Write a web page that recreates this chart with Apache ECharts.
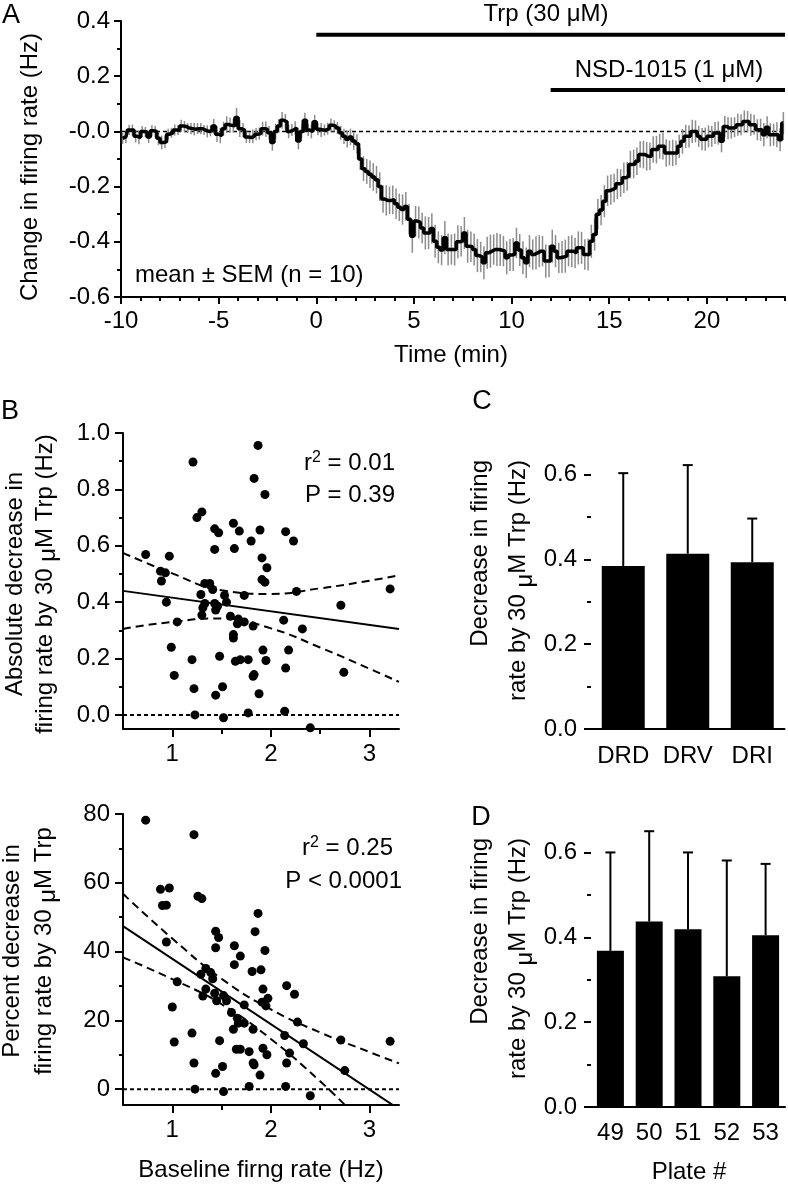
<!DOCTYPE html>
<html>
<head>
<meta charset="utf-8">
<script src="https://cdn.jsdelivr.net/npm/echarts/dist/echarts.min.js"></script>
<style>
html,body{margin:0;padding:0;background:#fff;}
#main{width:788px;height:1184px;}
</style>
</head>
<body>
<div id="main"></div>
<script>
var FONT = 'Liberation Sans, Arial, sans-serif';
var FS = 24;

// panel A : 10 s bins from -10 to 24 min, one row per minute
var aMean = [
  -0.025, -0.02, 0.005, 0.005, -0.018, -0.022,
  0.0, -0.002, -0.02, 0.002, 0.0, -0.025,
  -0.04, -0.038, -0.01, -0.005, 0.005, 0.005,
  0.02, 0.018, 0.012, 0.01, 0.008, 0.01,
  0.01, 0.005, 0.0, 0.002, 0.02, -0.01,
  -0.015, 0.01, 0.025, 0.022, 0.02, 0.05,
  0.01, 0.005, -0.02, -0.022, -0.018, -0.01,
  -0.008, 0.01, 0.008, -0.005, -0.04, 0.0,
  0.02, 0.04, 0.035, 0.0, 0.005, 0.012,
  -0.035, 0.0, 0.04, 0.005, 0.0, 0.035,
  0.008, 0.005, 0.005, 0.01, 0.022, 0.02,
  0.012, -0.005, -0.018, -0.028, -0.02, -0.035,
  -0.045, -0.1, -0.135, -0.145, -0.155, -0.165,
  -0.175, -0.2, -0.245, -0.25, -0.25, -0.248,
  -0.262, -0.275, -0.283, -0.272, -0.318, -0.38,
  -0.325, -0.33, -0.35, -0.368, -0.368, -0.352,
  -0.398, -0.42, -0.43, -0.385, -0.428, -0.428,
  -0.428, -0.4, -0.398, -0.368, -0.416, -0.418,
  -0.428, -0.45, -0.455, -0.476, -0.44, -0.434,
  -0.428, -0.428, -0.43, -0.434, -0.458, -0.448,
  -0.446, -0.404, -0.43, -0.458, -0.476, -0.434,
  -0.446, -0.44, -0.434, -0.434, -0.47, -0.47,
  -0.416, -0.434, -0.458, -0.455, -0.452, -0.434,
  -0.434, -0.44, -0.422, -0.422, -0.446, -0.446,
  -0.398, -0.374, -0.30, -0.285, -0.253, -0.215,
  -0.211, -0.205, -0.19, -0.187, -0.168, -0.163,
  -0.12, -0.118, -0.108, -0.084, -0.084, -0.09,
  -0.09, -0.066, -0.066, -0.054, -0.054, -0.078,
  -0.078, -0.078, -0.078, -0.054, -0.036, -0.018,
  -0.018, 0.0, 0.0, -0.018, -0.028, -0.028,
  -0.018, -0.018, -0.006, -0.006, -0.036, 0.018,
  0.012, 0.012, 0.015, 0.024, 0.024, 0.036,
  0.036, 0.024, 0.024, 0.006, 0.006, -0.012,
  0.015, -0.012, -0.012, -0.012, -0.03, 0.03
];
var aSem = [
  0.02, 0.022, 0.018, 0.02, 0.022, 0.025,
  0.02, 0.018, 0.022, 0.02, 0.02, 0.025,
  0.025, 0.022, 0.02, 0.018, 0.02, 0.018,
  0.022, 0.02, 0.018, 0.02, 0.022, 0.02,
  0.02, 0.018, 0.022, 0.02, 0.025, 0.028,
  0.028, 0.025, 0.03, 0.028, 0.025, 0.035,
  0.03, 0.025, 0.022, 0.02, 0.025, 0.022,
  0.022, 0.025, 0.028, 0.025, 0.03, 0.028,
  0.025, 0.03, 0.028, 0.025, 0.022, 0.025,
  0.03, 0.025, 0.028, 0.022, 0.025, 0.025,
  0.022, 0.025, 0.02, 0.022, 0.025, 0.02,
  0.022, 0.025, 0.028, 0.03, 0.03, 0.032,
  0.035, 0.04, 0.045, 0.045, 0.05, 0.05,
  0.05, 0.052, 0.05, 0.055, 0.05, 0.052,
  0.055, 0.05, 0.055, 0.052, 0.055, 0.06,
  0.055, 0.058, 0.055, 0.06, 0.058, 0.055,
  0.06, 0.058, 0.055, 0.06, 0.058, 0.055,
  0.058, 0.06, 0.055, 0.058, 0.06, 0.055,
  0.058, 0.06, 0.055, 0.06, 0.058, 0.06,
  0.055, 0.06, 0.058, 0.055, 0.06, 0.058,
  0.06, 0.055, 0.058, 0.06, 0.055, 0.058,
  0.055, 0.06, 0.058, 0.055, 0.06, 0.058,
  0.06, 0.058, 0.055, 0.058, 0.06, 0.055,
  0.058, 0.055, 0.06, 0.058, 0.055, 0.058,
  0.06, 0.058, 0.055, 0.055, 0.058, 0.055,
  0.055, 0.052, 0.055, 0.05, 0.055, 0.052,
  0.05, 0.052, 0.05, 0.048, 0.05, 0.052,
  0.05, 0.048, 0.05, 0.045, 0.048, 0.05,
  0.045, 0.048, 0.045, 0.042, 0.045, 0.042,
  0.04, 0.042, 0.04, 0.038, 0.04, 0.042,
  0.04, 0.038, 0.04, 0.042, 0.04, 0.038,
  0.04, 0.038, 0.036, 0.04, 0.038, 0.04,
  0.038, 0.04, 0.036, 0.038, 0.04, 0.042,
  0.04, 0.042, 0.04, 0.045, 0.042, 0.04
];
var aStart = -10;
var aBinsPerMin = 6;
var aXTicks = [-10, -5, 0, 5, 10, 15, 20];
var aXMinor = [-9, -8, -7, -6, -4, -3, -2, -1, 1, 2, 3, 4, 6, 7, 8, 9, 11, 12, 13, 14, 16, 17, 18, 19, 21, 22, 23, 24];
var aYTicks = [-0.6, -0.4, -0.2, 0, 0.2, 0.4];
var aYMinor = [-0.5, -0.3, -0.1, 0.1, 0.3];
var trpBar = [[0, 0.35], [24, 0.35]];
var nsdBar = [[12, 0.15], [24, 0.15]];

// panel B : baseline rate (Hz) vs decrease
var bAbsPoints = [
  [0.73, 0.569], [0.97, 0.563], [0.88, 0.51], [0.93, 0.504], [0.89, 0.475], [0.94, 0.40],
  [1.05, 0.33], [0.99, 0.24], [1.02, 0.14], [1.21, 0.897], [1.25, 0.70], [1.30, 0.72],
  [1.20, 0.196], [1.22, 0.093], [1.23, 0.0], [1.29, 0.427], [1.33, 0.466], [1.38, 0.466],
  [1.41, 0.445], [1.31, 0.38], [1.33, 0.395], [1.30, 0.354], [1.43, 0.66], [1.47, 0.646],
  [1.43, 0.587], [1.43, 0.395], [1.46, 0.386], [1.44, 0.372], [1.48, 0.208], [1.44, 0.07],
  [1.51, 0.10], [1.52, -0.01], [1.53, 0.424], [1.55, 0.40], [1.62, 0.68], [1.68, 0.652],
  [1.63, 0.59], [1.59, 0.35], [1.62, 0.285], [1.62, 0.273], [1.67, 0.34], [1.66, 0.323],
  [1.73, 0.33], [1.73, 0.424], [1.64, 0.19], [1.69, 0.196], [1.77, 0.196], [1.77, 0.007],
  [1.82, 0.315], [1.82, 0.137], [1.83, 0.143], [1.88, 0.075], [1.80, 0.617], [1.83, 0.839],
  [1.87, 0.956], [1.94, 0.782], [1.89, 0.656], [1.91, 0.557], [1.96, 0.522], [1.91, 0.48],
  [1.94, 0.471], [1.92, 0.23], [1.95, 0.193], [2.15, 0.65], [2.23, 0.617], [2.13, 0.336],
  [2.18, 0.23], [2.15, 0.166], [2.14, 0.013], [2.26, 0.438], [2.32, 0.305], [2.40, -0.046],
  [2.71, 0.389], [2.74, 0.151], [3.21, 0.447]
];
var bAbsFit = [[0.5, 0.44], [3.3, 0.305]];
var bAbsUpper = [[0.5, 0.575], [1.0, 0.502], [1.5, 0.442], [2.0, 0.429], [2.5, 0.449], [3.0, 0.476], [3.3, 0.495]];
var bAbsLower = [[0.5, 0.305], [1.0, 0.33], [1.5, 0.342], [2.0, 0.307], [2.5, 0.239], [3.0, 0.164], [3.3, 0.117]];

var bPctPoints = [
  [0.73, 78.2], [1.22, 74.0], [0.88, 58.1], [0.97, 58.5], [0.90, 53.4], [0.94, 53.5],
  [0.94, 42.8], [1.05, 31.2], [1.00, 23.9], [1.02, 13.7], [1.26, 56.1], [1.30, 55.4],
  [1.20, 16.3], [1.22, 7.6], [1.23, 0.0], [1.29, 33.4], [1.34, 35.1], [1.39, 33.9],
  [1.41, 32.1], [1.31, 27.1], [1.34, 29.1], [1.44, 45.9], [1.47, 44.1], [1.44, 41.1],
  [1.43, 27.9], [1.45, 25.7], [1.52, 27.2], [1.55, 25.7], [1.48, 14.1], [1.44, 4.6],
  [1.51, 6.6], [1.52, -0.7], [1.63, 41.7], [1.69, 38.7], [1.63, 36.2], [1.60, 22.3],
  [1.66, 20.6], [1.62, 17.4], [1.67, 19.2], [1.73, 24.5], [1.73, 19.2], [1.65, 11.6],
  [1.69, 11.6], [1.78, 10.9], [1.78, 0.8], [1.82, 17.4], [1.82, 7.6], [1.83, 7.1],
  [1.89, 4.1], [1.84, 45.8], [1.87, 51.1], [1.81, 34.2], [1.94, 40.3], [1.90, 34.7],
  [1.92, 29.1], [1.97, 26.4], [1.91, 25.3], [1.95, 24.2], [1.92, 11.9], [1.96, 10.0],
  [2.16, 30.1], [2.24, 27.6], [2.14, 15.6], [2.19, 10.5], [2.16, 7.6], [2.15, 0.8],
  [2.27, 19.5], [2.33, 13.2], [2.40, -1.9], [2.71, 14.3], [2.75, 5.4], [3.21, 13.9]
];
var bPctFit = [[0.5, 47.4], [3.3, -5.8]];
var bPctUpper = [[0.5, 56.8], [1.0, 43.8], [1.5, 32.1], [2.0, 23.2], [2.5, 16.5], [3.0, 10.8], [3.3, 7.5]];
var bPctLower = [[0.5, 38.3], [1.0, 32.0], [1.5, 24.7], [2.0, 14.6], [2.5, 2.3], [2.8, -6.0]];
var bXTicks = [1, 2, 3];
var bXMinor = [1.5, 2.5];
var bAbsYTicks = [0, 0.2, 0.4, 0.6, 0.8, 1.0];
var bAbsYMinor = [0.1, 0.3, 0.5, 0.7, 0.9];
var bPctYTicks = [0, 20, 40, 60, 80];
var bPctYMinor = [10, 30, 50, 70];

// panel C : subregions
var cCats = ['DRD', 'DRV', 'DRI'];
var cMean = [0.384, 0.413, 0.393];
var cErr = [0.219, 0.209, 0.103];

// panel D : plates
var dCats = ['49', '50', '51', '52', '53'];
var dMean = [0.368, 0.437, 0.419, 0.308, 0.405];
var dErr = [0.232, 0.213, 0.181, 0.273, 0.168];
var cdYTicks = [0, 0.2, 0.4, 0.6];
var cdYMinor = [0.1, 0.3, 0.5];

var axisLine = {onZero: false, lineStyle: {color: '#000', width: 2}};

function valueAxis(grid, min, max, ticks, tickLen, margin, fmt, position) {
    var ax = {
        type: 'value', gridIndex: grid, min: min, max: max, position: position,
        axisLine: axisLine,
        splitLine: {show: false},
        axisTick: {show: true, length: tickLen, customValues: ticks, lineStyle: {color: '#000', width: 2}},
        axisLabel: {show: true, customValues: ticks, margin: margin, color: '#000', fontSize: FS, fontFamily: FONT}
    };
    if (fmt) ax.axisLabel.formatter = fmt;
    return ax;
}
function minorAxis(grid, min, max, ticks, tickLen, position) {
    return {
        type: 'value', gridIndex: grid, min: min, max: max, position: position, offset: 0,
        axisLine: {show: false, onZero: false},
        splitLine: {show: false},
        axisTick: {show: true, length: tickLen, customValues: ticks, lineStyle: {color: '#000', width: 2}},
        axisLabel: {show: false}
    };
}
function catAxis(grid, cats, margin) {
    return {
        type: 'category', gridIndex: grid, data: cats, position: 'bottom',
        axisLine: axisLine, axisTick: {show: false},
        axisLabel: {interval: 0, margin: margin, color: '#000', fontSize: FS, fontFamily: FONT}
    };
}

function fmt1(v) {
    if (v === 0) return '-0.0';
    return v.toFixed(1);
}
function fmt1b(v) {
    return v.toFixed(1);
}

// vertical error line (top only) with a cap
function barErr(params, api) {
    var p0 = api.coord([api.value(0), api.value(1)]);
    var p1 = api.coord([api.value(0), api.value(1) + api.value(2)]);
    var st = {stroke: '#000', lineWidth: 2};
    return {type: 'group', children: [
        {type: 'line', shape: {x1: p0[0], y1: p0[1], x2: p1[0], y2: p1[1]}, style: st},
        {type: 'line', shape: {x1: p1[0] - 5, y1: p1[1], x2: p1[0] + 5, y2: p1[1]}, style: st}
    ]};
}
// symmetric sem bar for the time course
function semBar(params, api) {
    var p0 = api.coord([api.value(0), api.value(1) - api.value(2)]);
    var p1 = api.coord([api.value(0), api.value(1) + api.value(2)]);
    return {type: 'line', shape: {x1: p0[0], y1: p0[1], x2: p1[0], y2: p1[1]},
        style: {stroke: '#8c8c8c', lineWidth: 1.5}};
}

var aLine = [], aErr = [];
for (var i = 0; i < aMean.length; i++) {
    var t = aStart + (i + 0.5) / aBinsPerMin;
    aLine.push([t, aMean[i]]);
    aErr.push([t, aMean[i], aSem[i]]);
}
var cErrData = [], dErrData = [];
for (var j = 0; j < cCats.length; j++) cErrData.push([j, cMean[j], cErr[j]]);
for (var k = 0; k < dCats.length; k++) dErrData.push([k, dMean[k], dErr[k]]);

function txt(x, y, text, align, rot, size) {
    return {type: 'text', x: x, y: y, rotation: rot || 0, z: 10,
        style: {text: text, fill: '#000', fontSize: size || FS, fontFamily: FONT,
            align: align || 'center', verticalAlign: 'middle'}};
}
function richTxt(x, y, text, align, rot, lh) {
    return {type: 'text', x: x, y: y, rotation: rot || 0, z: 10,
        style: {text: text, fill: '#000', fontSize: FS, fontFamily: FONT,
            align: align, verticalAlign: 'middle',
            rich: {
                a: {fontSize: FS, fontFamily: FONT, fill: '#000', lineHeight: lh},
                mu: {fontSize: FS, fontFamily: FONT, fill: '#000', lineHeight: lh - 12, verticalAlign: 'bottom'},
                s: {fontSize: 16, fontFamily: FONT, fill: '#000', lineHeight: 14, verticalAlign: 'top'}
            }}};
}
var R = Math.PI / 2;

var option = {
    animation: false,
    backgroundColor: '#fff',
    grid: [
        {left: 121, top: 21, width: 664, height: 276},
        {left: 123, top: 433, width: 276, height: 296},
        {left: 123, top: 814, width: 276, height: 291},
        {left: 591, top: 432, width: 193.5, height: 297},
        {left: 591, top: 810, width: 194, height: 297}
    ],
    xAxis: [
        valueAxis(0, -10, 24, aXTicks, 7, 12, null, 'bottom'),
        minorAxis(0, -10, 24, aXMinor, 4, 'bottom'),
        valueAxis(1, 0.5, 3.3, bXTicks, 8, 13, null, 'bottom'),
        minorAxis(1, 0.5, 3.3, bXMinor, 5, 'bottom'),
        valueAxis(2, 0.5, 3.3, bXTicks, 8, 13, null, 'bottom'),
        minorAxis(2, 0.5, 3.3, bXMinor, 5, 'bottom'),
        catAxis(3, cCats, 15),
        catAxis(4, dCats, 14)
    ],
    yAxis: [
        valueAxis(0, -0.6, 0.4, aYTicks, 7, 11, fmt1, 'left'),
        minorAxis(0, -0.6, 0.4, aYMinor, 4, 'left'),
        valueAxis(1, -0.05, 1.0, bAbsYTicks, 8, 13, fmt1b, 'left'),
        minorAxis(1, -0.05, 1.0, bAbsYMinor, 4, 'left'),
        valueAxis(2, -4.6, 80, bPctYTicks, 8, 13, null, 'left'),
        minorAxis(2, -4.6, 80, bPctYMinor, 4, 'left'),
        valueAxis(3, 0, 0.7, cdYTicks, 7, 14, fmt1b, 'left'),
        minorAxis(3, 0, 0.7, cdYMinor, 4, 'left'),
        valueAxis(4, 0, 0.7, cdYTicks, 7, 14, fmt1b, 'left'),
        minorAxis(4, 0, 0.7, cdYMinor, 4, 'left')
    ],
    series: [
        // A
        {type: 'line', xAxisIndex: 0, yAxisIndex: 0, data: [[-10, 0], [24, 0]], symbol: 'none', z: 1,
            lineStyle: {color: '#000', width: 1.5, type: [4, 3]}},
        {type: 'custom', xAxisIndex: 0, yAxisIndex: 0, data: aErr, renderItem: semBar, z: 2},
        {type: 'line', xAxisIndex: 0, yAxisIndex: 0, data: aLine, step: 'middle', symbol: 'none', z: 3,
            lineStyle: {color: '#000', width: 3.5}},
        {type: 'line', xAxisIndex: 0, yAxisIndex: 0, data: trpBar, symbol: 'none', lineStyle: {color: '#000', width: 4}},
        {type: 'line', xAxisIndex: 0, yAxisIndex: 0, data: nsdBar, symbol: 'none', lineStyle: {color: '#000', width: 4}},
        // B top
        {type: 'line', xAxisIndex: 2, yAxisIndex: 2, data: [[0.5, 0], [3.3, 0]], symbol: 'none',
            lineStyle: {color: '#000', width: 2, type: [4, 3]}},
        {type: 'line', xAxisIndex: 2, yAxisIndex: 2, data: bAbsFit, symbol: 'none', lineStyle: {color: '#000', width: 2}},
        {type: 'line', xAxisIndex: 2, yAxisIndex: 2, data: bAbsUpper, symbol: 'none', smooth: true,
            lineStyle: {color: '#000', width: 2, type: [8, 5]}},
        {type: 'line', xAxisIndex: 2, yAxisIndex: 2, data: bAbsLower, symbol: 'none', smooth: true,
            lineStyle: {color: '#000', width: 2, type: [8, 5]}},
        {type: 'scatter', xAxisIndex: 2, yAxisIndex: 2, data: bAbsPoints, symbolSize: 9,
            itemStyle: {color: '#000', opacity: 1}, z: 5},
        // B bottom
        {type: 'line', xAxisIndex: 4, yAxisIndex: 4, data: [[0.5, 0], [3.3, 0]], symbol: 'none',
            lineStyle: {color: '#000', width: 2, type: [4, 3]}},
        {type: 'line', xAxisIndex: 4, yAxisIndex: 4, data: bPctFit, symbol: 'none', lineStyle: {color: '#000', width: 2}},
        {type: 'line', xAxisIndex: 4, yAxisIndex: 4, data: bPctUpper, symbol: 'none', smooth: true,
            lineStyle: {color: '#000', width: 2, type: [8, 5]}},
        {type: 'line', xAxisIndex: 4, yAxisIndex: 4, data: bPctLower, symbol: 'none', smooth: true,
            lineStyle: {color: '#000', width: 2, type: [8, 5]}},
        {type: 'scatter', xAxisIndex: 4, yAxisIndex: 4, data: bPctPoints, symbolSize: 9,
            itemStyle: {color: '#000', opacity: 1}, z: 5},
        // C
        {type: 'bar', xAxisIndex: 6, yAxisIndex: 6, data: cMean, barWidth: 43, itemStyle: {color: '#000'}},
        {type: 'custom', xAxisIndex: 6, yAxisIndex: 6, data: cErrData, renderItem: barErr},
        // D
        {type: 'bar', xAxisIndex: 7, yAxisIndex: 8, data: dMean, barWidth: 27, itemStyle: {color: '#000'}},
        {type: 'custom', xAxisIndex: 7, yAxisIndex: 8, data: dErrData, renderItem: barErr}
    ],
    graphic: [
        txt(11, 16, 'A', 'center', 0, 27),
        txt(10, 412, 'B', 'center', 0, 27),
        txt(482, 402, 'C', 'center', 0, 27),
        txt(481, 818, 'D', 'center', 0, 27),
        txt(546, 14, 'Trp (30 \u03bcM)'),
        txt(669, 70, 'NSD-1015 (1 \u03bcM)'),
        txt(135, 275, 'mean \u00b1 SEM (n = 10)', 'left'),
        txt(451, 355, 'Time (min)'),
        txt(30, 167, 'Change in firing rate (Hz)', 'center', R),
        richTxt(30, 584, '{a|Absolute decrease in}\n{a|firing rate by 30 }{mu|\u03bc}{a|M Trp (Hz)}', 'center', R, 30),
        richTxt(28.5, 951, '{a|Percent decrease in}\n{a|firing rate by 30 }{mu|\u03bc}{a|M Trp}', 'center', R, 32),
        richTxt(499, 460, '{a|Decrease in firing}\n{a|rate by 30 }{mu|\u03bc}{a|M Trp (Hz)}', 'right', R, 38),
        richTxt(499, 838, '{a|Decrease in firing}\n{a|rate by 30 }{mu|\u03bc}{a|M Trp (Hz)}', 'right', R, 38),
        richTxt(395, 463, '{a|r}{s|2}{a| = 0.01}', 'right', 0, 26),
        txt(395, 495, 'P = 0.39', 'right'),
        richTxt(393, 848, '{a|r}{s|2}{a| = 0.25}', 'right', 0, 26),
        txt(402, 881, 'P < 0.0001', 'right'),
        txt(261, 1170, 'Baseline firng rate (Hz)'),
        txt(689, 1172, 'Plate #')
    ]
};

var myChart = echarts.init(document.getElementById('main'), null, {renderer: 'canvas'});
myChart.setOption(option);
</script>
</body>
</html>
